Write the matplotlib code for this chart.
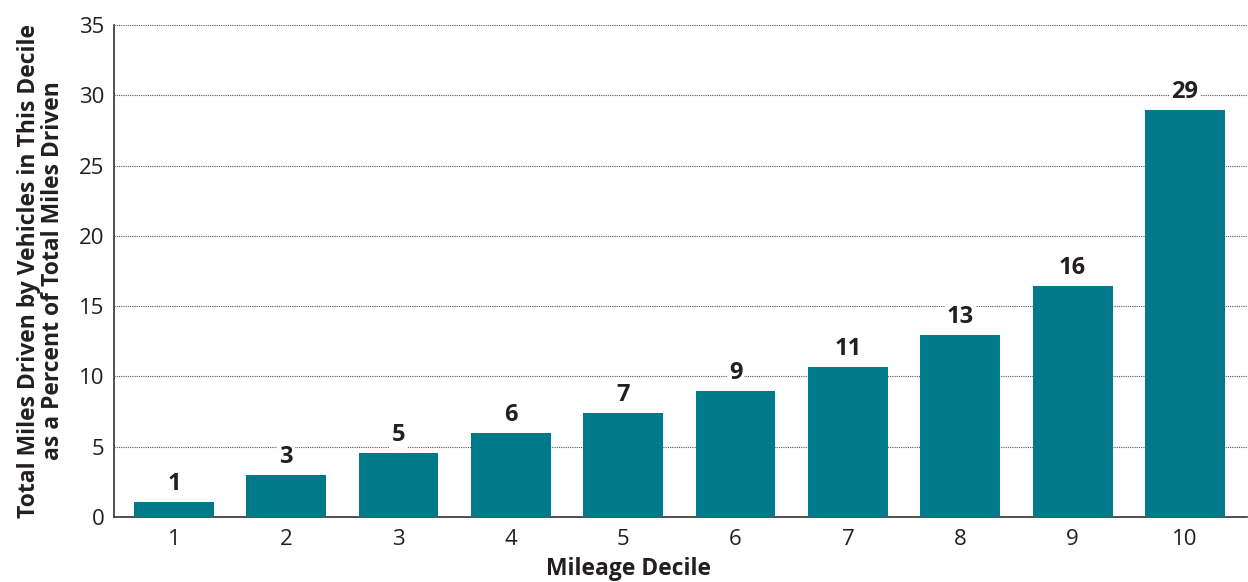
import numpy as np
import matplotlib.pyplot as plt

plt.rcParams['font.family'] = ['Open Sans', 'DejaVu Sans']

# Share of total miles driven, by mileage decile
deciles = [1, 2, 3, 4, 5, 6, 7, 8, 9, 10]
share = [1.07, 2.99, 4.55, 5.97, 7.4, 8.96, 10.67, 12.94, 16.43, 28.95]

bar_color = '#007989'
text_color = '#231f20'

fig = plt.figure(figsize=(12.48, 5.82), dpi=100)
ax = fig.add_axes([0.0913, 0.1117, 0.9077, 0.8453])

ax.bar(deciles, share, width=0.71, color=bar_color, zorder=3)

for x, v in zip(deciles, share):
    ax.text(x, v + 0.4, f'{round(v):d}', ha='center', va='bottom',
            fontsize=17, fontweight='bold', color=text_color, zorder=4,
            bbox=dict(facecolor='white', edgecolor='none', pad=1.5))

ax.set_xlim(0.466, 10.55)
ax.set_ylim(0, 35)
ax.set_yticks(np.arange(0, 36, 5))
ax.set_xticks(deciles)
ax.yaxis.grid(True, linestyle=(0, (1, 1)), color='#555555', linewidth=0.8, zorder=0)
ax.tick_params(axis='both', length=0, labelsize=16, colors=text_color)
ax.tick_params(axis='y', pad=7)
ax.tick_params(axis='x', pad=9)

for side in ['top', 'right']:
    ax.spines[side].set_visible(False)
ax.spines['left'].set_color('#333333')
ax.spines['bottom'].set_color('#333333')
ax.spines['left'].set_linewidth(1.2)
ax.spines['bottom'].set_linewidth(1.2)

ax.set_xlabel('Mileage Decile', fontsize=16.5, fontweight='bold', color=text_color)
# x label sits centred on the figure rather than on the axes
ax.xaxis.set_label_coords(0.454, -0.082)
ax.set_ylabel('Total Miles Driven by Vehicles in This Decile\nas a Percent of Total Miles Driven',
              fontsize=16.5, fontweight='bold', color=text_color, labelpad=10, linespacing=1.0)

fig.savefig('out.png', dpi=100)
